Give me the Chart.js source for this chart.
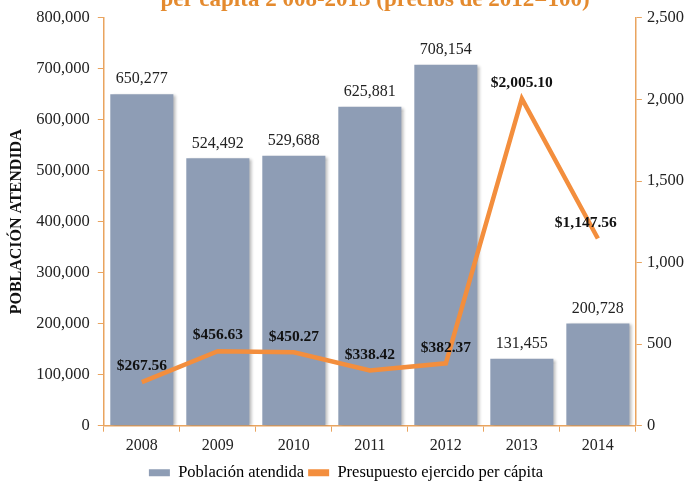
<!DOCTYPE html>
<html>
<head>
<meta charset="utf-8">
<script src="https://cdn.jsdelivr.net/npm/chart.js@4/dist/chart.umd.min.js"></script>
<style>
  html, body { margin: 0; padding: 0; background: #fff; }
  #wrap { width: 689px; height: 485px; position: relative; }
</style>
</head>
<body>
<div id="wrap"><canvas id="c" width="689" height="485"></canvas></div>
<script>
const years = ['2008', '2009', '2010', '2011', '2012', '2013', '2014'];
const poblacion = [650277, 524492, 529688, 625881, 708154, 131455, 200728];
const presupuesto = [267.56, 456.63, 450.27, 338.42, 382.37, 2005.10, 1147.56];
const leftTicks = [0, 100000, 200000, 300000, 400000, 500000, 600000, 700000, 800000];
const rightTicks = [0, 500, 1000, 1500, 2000, 2500];

const FONT = "'Liberation Serif', 'DejaVu Serif', serif";
const AXIS = '#E9A45F';
const ORANGE = '#F38E3D';
const BAR = '#8E9DB5';

// sombra de las barras
const barShadow = {
  id: 'barShadow',
  beforeDatasetDraw(chart, args) {
    if (args.index !== 1) return;
    const ctx = chart.ctx;
    ctx.save();
    ctx.shadowColor = 'rgba(0,0,0,0.28)';
    ctx.shadowOffsetX = 3;
    ctx.shadowOffsetY = 1;
    ctx.shadowBlur = 3;
  },
  afterDatasetDraw(chart, args) {
    if (args.index !== 1) return;
    chart.ctx.restore();
  }
};

// etiquetas de datos y título cortado
const labels = {
  id: 'labels',
  afterDatasetsDraw(chart) {
    const ctx = chart.ctx;
    ctx.save();
    ctx.textAlign = 'center';
    ctx.textBaseline = 'bottom';
    ctx.fillStyle = '#222';
    ctx.font = '16px ' + FONT;
    chart.getDatasetMeta(1).data.forEach((bar, i) => {
      ctx.fillText(poblacion[i].toLocaleString('en-US'), bar.x, bar.y - 7);
    });
    ctx.font = 'bold 15.5px ' + FONT;
    ctx.fillStyle = '#111';
    chart.getDatasetMeta(0).data.forEach((pt, i) => {
      const txt = '$' + presupuesto[i].toLocaleString('en-US', {minimumFractionDigits: 2, maximumFractionDigits: 2});
      let dx = 0, dy = 8;
      if (i === 6) dx = -12;
      ctx.fillText(txt, pt.x + dx, pt.y - dy);
    });
    ctx.font = 'bold 23px ' + FONT;
    ctx.fillStyle = '#E48A2E';
    ctx.textBaseline = 'alphabetic';
    ctx.fillText('per cápita 2 008-2013 (precios de 2012=100)', 375, 6);
    ctx.restore();
  }
};

new Chart(document.getElementById('c').getContext('2d'), {
  data: {
    labels: years,
    datasets: [
      {
        type: 'line',
        label: 'Presupuesto ejercido per cápita',
        data: presupuesto,
        yAxisID: 'y1',
        borderColor: ORANGE,
        backgroundColor: ORANGE,
        borderWidth: 4.5,
        pointRadius: 0,
        tension: 0,
        order: 0
      },
      {
        type: 'bar',
        label: 'Población atendida',
        data: poblacion,
        yAxisID: 'y',
        backgroundColor: BAR,
        borderWidth: 0,
        categoryPercentage: 1,
        barPercentage: 0.83,
        order: 1
      }
    ]
  },
  options: {
    responsive: false,
    animation: false,
    layout: { padding: { top: 7, right: 0, left: 3, bottom: -6 } },
    plugins: {
      legend: {
        position: 'bottom',
        labels: {
          font: { family: FONT, size: 16.5 },
          color: '#222',
          boxWidth: 21,
          boxHeight: 7,
          padding: 4,
          generateLabels(chart) {
            return [
              { text: 'Población atendida', fillStyle: BAR, strokeStyle: BAR, lineWidth: 0, datasetIndex: 1 },
              { text: 'Presupuesto ejercido per cápita', fillStyle: ORANGE, strokeStyle: ORANGE, lineWidth: 0, datasetIndex: 0 }
            ];
          }
        }
      },
      tooltip: { enabled: false }
    },
    scales: {
      x: {
        grid: { display: true, drawOnChartArea: false, color: AXIS, tickLength: 6, offset: true },
        border: { color: AXIS, width: 1.5 },
        ticks: { font: { family: FONT, size: 16, lineHeight: 1.55 }, color: '#222', padding: 2 }
      },
      y: {
        position: 'left',
        min: 0,
        max: 800000,
        afterBuildTicks(axis) { axis.ticks = leftTicks.map(v => ({ value: v })); },
        grid: { drawOnChartArea: false, color: AXIS, tickLength: 6 },
        border: { color: AXIS, width: 1.5 },
        ticks: {
          font: { family: FONT, size: 16.5 },
          color: '#222',
          padding: 8,
          callback: v => v.toLocaleString('en-US')
        },
        title: {
          display: true,
          text: 'POBLACIÓN ATENDIDA',
          font: { family: FONT, size: 16, weight: 'bold' },
          color: '#111',
          padding: { bottom: 2 }
        }
      },
      y1: {
        position: 'right',
        min: 0,
        max: 2500,
        afterBuildTicks(axis) { axis.ticks = rightTicks.map(v => ({ value: v })); },
        grid: { drawOnChartArea: false, color: AXIS, tickLength: 6 },
        border: { color: AXIS, width: 1.5 },
        ticks: {
          font: { family: FONT, size: 16.5 },
          color: '#222',
          padding: 5,
          callback: v => v.toLocaleString('en-US')
        }
      }
    }
  },
  plugins: [barShadow, labels]
});
</script>
</body>
</html>
